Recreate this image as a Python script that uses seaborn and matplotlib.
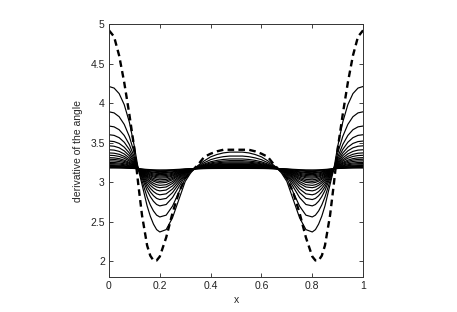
import numpy as np
import pandas as pd
import seaborn as sns
import matplotlib
matplotlib.use("Agg")
import matplotlib.pyplot as plt

# valores (metade esquerda, a curva é simétrica em x = 0.5)
x_meia = [0, 0.02, 0.04, 0.06, 0.08, 0.1, 0.115, 0.13, 0.15, 0.1625, 0.175, 0.1875, 0.2,
          0.225, 0.25, 0.275, 0.3, 0.32, 0.335, 0.35, 0.375, 0.4, 0.425, 0.45, 0.475, 0.5]

# curva tracejada (estado inicial)
tracejada_meia = [4.92, 4.84, 4.60, 4.26, 3.86, 3.42, 2.98, 2.58, 2.20, 2.07, 2.01, 2.01, 2.06,
                  2.30, 2.61, 2.87, 3.05, 3.13, 3.17, 3.22, 3.32, 3.36, 3.39, 3.41, 3.41, 3.41]

# curva sólida mais alta (perfil de referência)
perfil_meia = [4.21, 4.19, 4.12, 3.98, 3.76, 3.45, 3.17, 2.97, 2.70, 2.57, 2.47, 2.40, 2.37,
               2.40, 2.55, 2.78, 3.01, 3.11, 3.17, 3.21, 3.27, 3.32, 3.35, 3.37, 3.38, 3.38]

# valor de cada curva sólida em x = 0 (pico) e em x = 0.2 (vale)
picos = [4.21, 3.89, 3.71, 3.60, 3.52, 3.46, 3.41, 3.37, 3.34, 3.31,
         3.29, 3.27, 3.25, 3.235, 3.22, 3.21, 3.20, 3.19, 3.185, 3.18]
vales = [2.37, 2.56, 2.70, 2.78, 2.84, 2.89, 2.93, 2.96, 2.99, 3.01,
         3.03, 3.05, 3.065, 3.08, 3.095, 3.11, 3.12, 3.135, 3.145, 3.155]

media = 3.17  # linha para onde tudo converge

# espelha a metade esquerda para obter o intervalo [0, 1]
x = np.array(x_meia + [1 - v for v in x_meia[-2::-1]])
tracejada = np.array(tracejada_meia + tracejada_meia[-2::-1])
perfil = np.array(perfil_meia + perfil_meia[-2::-1])
zona_pico = (x <= 0.115) | (x >= 0.885)

linhas = []
for i, (p, v) in enumerate(zip(picos, vales)):
    r_pico = (p - media) / (picos[0] - media)
    r_vale = (v - media) / (vales[0] - media)
    escala = np.where(zona_pico, r_pico, r_vale)
    y = media + (perfil - media) * escala
    linhas.append(pd.DataFrame({"x": x, "y": y, "curva": i}))
df = pd.concat(linhas, ignore_index=True)

sns.set_style("ticks")
plt.rcParams["font.family"] = ["Liberation Sans", "DejaVu Sans"]
plt.rcParams["xtick.direction"] = "in"
plt.rcParams["ytick.direction"] = "in"
plt.rcParams["xtick.top"] = True
plt.rcParams["ytick.right"] = True

fig = plt.figure(figsize=(4.57, 3.12), dpi=100)
ax = fig.add_axes([0.2385, 0.112, 0.556, 0.811])

sns.lineplot(data=df, x="x", y="y", units="curva", estimator=None,
             color="black", linewidth=0.85, sort=False, ax=ax)
sns.lineplot(x=x, y=tracejada, color="black", linewidth=1.7,
             linestyle=(0, (2.8, 1.8)), sort=False, ax=ax)

ax.set_xlim(0, 1)
ax.set_ylim(1.8, 5)
ax.set_xticks([0, 0.2, 0.4, 0.6, 0.8, 1])
ax.set_xticklabels(["0", "0.2", "0.4", "0.6", "0.8", "1"])
ax.set_yticks([2, 2.5, 3, 3.5, 4, 4.5, 5])
ax.set_yticklabels(["2", "2.5", "3", "3.5", "4", "4.5", "5"])
ax.tick_params(labelsize=7.5, length=3, width=0.6, colors="#222222", pad=3)
for s in ax.spines.values():
    s.set_linewidth(0.7)
    s.set_color("#333333")

ax.set_xlabel("x", fontsize=7.5, labelpad=3)
ax.set_ylabel("derivative of the angle", fontsize=7.5, labelpad=5)

plt.savefig("out.png", dpi=100)
plt.close()
